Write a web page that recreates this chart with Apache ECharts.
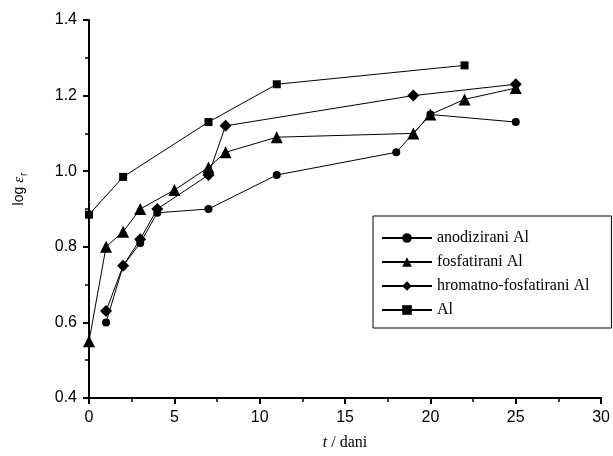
<!DOCTYPE html>
<html>
<head>
<meta charset="utf-8">
<script src="https://cdn.jsdelivr.net/npm/echarts@6/dist/echarts.min.js"></script>
<style>
  html, body { margin: 0; padding: 0; background: #fff; }
  #chart { width: 613px; height: 456px; }
</style>
</head>
<body>
<div id="chart"></div>
<script>
// data: [t (days), log eps_r]
const anodizirani = [[1, 0.60], [2, 0.75], [3, 0.81], [4, 0.89], [7, 0.90], [11, 0.99], [18, 1.05], [20, 1.15], [25, 1.13]];
const fosfatirani = [[0, 0.55], [1, 0.80], [2, 0.84], [3, 0.90], [5, 0.95], [7, 1.01], [8, 1.05], [11, 1.09], [19, 1.10], [20, 1.15], [22, 1.19], [25, 1.22]];
const hromatno = [[1, 0.63], [2, 0.75], [3, 0.82], [4, 0.90], [7, 0.99], [8, 1.12], [19, 1.20], [25, 1.23]];
const aluminij = [[0, 0.885], [2, 0.985], [7, 1.13], [11, 1.23], [22, 1.28]];

const seriesNames = ['anodizirani Al', 'fosfatirani Al', 'hromatno-fosfatirani Al', 'Al'];

function mkSeries(name, data, symbol, size) {
    return {
        name: name,
        type: 'line',
        data: data,
        symbol: symbol,
        symbolSize: size,
        lineStyle: { color: '#000', width: 1 },
        itemStyle: { color: '#000' },
        emphasis: { disabled: true },
        z: 3
    };
}

let chart = echarts.init(document.getElementById('chart'));
let option;

option = {
    animation: false,
    grid: { left: 89, right: 10, top: 20, bottom: 57 },
    legend: {
        orient: 'vertical',
        left: 373,
        top: 216,
        data: seriesNames,
        itemWidth: 50,
        itemHeight: 12,
        itemGap: 8,
        padding: [14, 22, 10, 8],
        borderColor: '#000',
        borderWidth: 1,
        textStyle: { fontFamily: 'Liberation Serif', fontSize: 16, color: '#000' }
    },
    xAxis: {
        type: 'value',
        min: 0,
        max: 30,
        interval: 5,
        name: '{i|t} / dani',
        nameLocation: 'middle',
        nameGap: 37,
        nameTextStyle: {
            fontFamily: 'Liberation Serif', fontSize: 16, color: '#000',
            rich: { i: { fontFamily: 'Liberation Serif', fontStyle: 'italic', fontSize: 16, color: '#000' } }
        },
        axisLine: { lineStyle: { color: '#000', width: 2 } },
        axisTick: { inside: false, length: 6, lineStyle: { color: '#000', width: 2 } },
        minorTick: { show: true, splitNumber: 2, length: 4, lineStyle: { color: '#000', width: 1.5 } },
        splitLine: { show: false },
        axisLabel: { fontFamily: 'Liberation Sans', fontSize: 16, color: '#000', margin: 12 }
    },
    yAxis: {
        type: 'value',
        min: 0.4,
        max: 1.4,
        interval: 0.2,
        name: '{a|log }{e|ε}{s|r}',
        nameLocation: 'middle',
        nameRotate: 90,
        nameGap: 60,
        nameTextStyle: {
            color: '#000',
            padding: [0, 0, 0, 40],
            rich: {
                a: { fontFamily: 'Liberation Sans', fontSize: 14, color: '#000' },
                e: { fontFamily: 'Liberation Serif', fontStyle: 'italic', fontSize: 15, color: '#000' },
                s: { fontFamily: 'Liberation Sans', fontSize: 10, color: '#000', padding: [9, 0, 0, 1] }
            }
        },
        axisLine: { lineStyle: { color: '#000', width: 2 } },
        axisTick: { inside: false, length: 6, lineStyle: { color: '#000', width: 2 } },
        minorTick: { show: true, splitNumber: 2, length: 4, lineStyle: { color: '#000', width: 1.5 } },
        splitLine: { show: false },
        axisLabel: {
            fontFamily: 'Liberation Sans', fontSize: 16, color: '#000', margin: 12,
            formatter: function (v) { return v.toFixed(1); }
        }
    },
    series: [
        mkSeries(seriesNames[0], anodizirani, 'circle', 8),
        mkSeries(seriesNames[1], fosfatirani, 'triangle', 12),
        mkSeries(seriesNames[2], hromatno, 'diamond', 12),
        mkSeries(seriesNames[3], aluminij, 'rect', 8)
    ]
};

option && chart.setOption(option);
</script>
</body>
</html>
